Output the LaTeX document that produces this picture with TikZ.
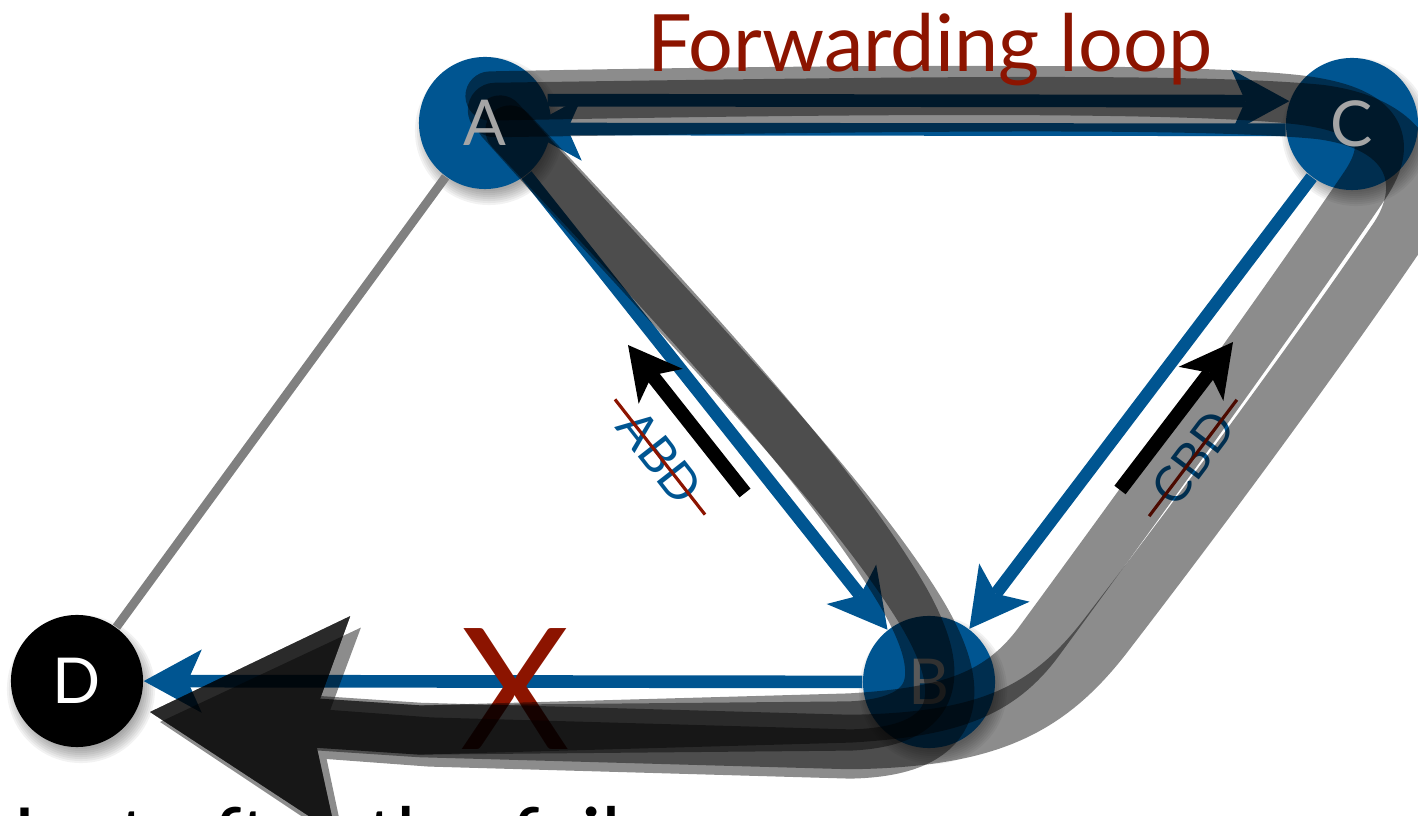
\documentclass[tikz,border=0pt]{standalone}
\usepackage{fontspec}
\setmainfont{Lato}
\usepackage{tikz}
\usetikzlibrary{arrows.meta,calc}
\definecolor{netblue}{RGB}{0,85,145}
\definecolor{loopred}{RGB}{140,20,0}
\definecolor{labelgray}{RGB}{165,165,165}
\definecolor{linkgray}{RGB}{128,128,128}

\begin{document}
\begin{tikzpicture}[x=0.01cm, y=-0.01cm,
    router/.style={circle, fill=netblue, minimum size=1.32cm, inner sep=0pt},
    rname/.style={font=\fontsize{18}{18}\selectfont, text=labelgray, inner sep=0pt},
    link/.style={draw=netblue, line width=3.6pt, -{Stealth[length=16.5pt, width=18pt, inset=4pt, line width=0pt]}},
    hint/.style={draw=black, line width=4pt, -{Stealth[length=15pt, width=16pt, inset=4pt, line width=0pt]}},
    route/.style={text=netblue, font=\fontsize{14}{14}\selectfont, inner xsep=6pt, inner ysep=0pt},
    strike/.style={draw=loopred, line width=0.9pt},
    band/.style={draw=black, line cap=round, line join=round, line width=14pt,
        -{Stealth[length=55pt, width=62pt, inset=9pt, line width=0pt]}},
    bandgroup/.style={transparency group, opacity=0.45}]
    \useasboundingbox (0,0) rectangle (1418,816);

    % where the routers sit
    \coordinate (pA) at (485,123);
    \coordinate (pB) at (929,682);
    \coordinate (pC) at (1352,124);
    \coordinate (pD) at (77,681);

    % soft shadows under the routers
    \foreach \p in {pA,pB,pC,pD}
        \foreach \k in {1,...,8}
            \fill[black, opacity=0.05] ($(\p)+(4,8)$) circle[radius={0.58cm+0.02cm*\k}];

    \node[router] (A) at (pA) {};
    \node[router, rname] (B) at (pB) {B};
    \node[router] (C) at (pC) {};
    \node[router, fill=black, rname, text=white] (D) at (pD) {D};

    % A to D (plain link)
    \draw[draw=linkgray, line width=2.5pt] (A) -- (D);

    % links and their directions
    \draw[link] (A.20) -- (C.160);
    \coordinate (tipA) at ($(A.east)+(-28,6)$);
    \draw[link] (C.185) -- (tipA);
    \draw[link] (A) -- (B);
    \draw[link] (C) -- (B);
    \draw[link] (B) -- (D);

    % route learnt from C, no longer valid
    \node[route, rotate=53] (cbd) at (1193,458) {CBD};
    \draw[strike] (cbd.west) -- (cbd.east);

    % failed link
    \node[text=loopred, font=\fontsize{48}{48}\selectfont, anchor=base, inner sep=0pt] (cut) at (515,750) {X};

    % traffic: A -> C -> B -> D, drawn twice
    \coordinate (tipD) at (150,712);
    \coordinate (tipDb) at (160,722);
    \begin{scope}[bandgroup]
    \draw[band] (490,96) .. controls (900,88) and (1200,88) .. (1300,100)
        .. controls (1380,110) and (1395,140) .. (1365,185)
        .. controls (1280,310) and (1150,490) .. (1040,640)
        .. controls (1000,695) and (950,712) .. (850,718) -- (420,730) -- (tipD);
    \end{scope}
    \begin{scope}[bandgroup]
    \draw[band, line width=15.5pt] (495,110) .. controls (900,104) and (1200,100) .. (1320,112)
        .. controls (1420,125) and (1430,190) .. (1395,240)
        .. controls (1320,350) and (1210,500) .. (1110,630)
        .. controls (1050,710) and (990,740) .. (850,742) -- (420,730) -- (tipD);
    \end{scope}

    % traffic: A -> B -> D, drawn twice
    \begin{scope}[bandgroup]
    \draw[band] (510,130) .. controls (660,290) and (830,470) .. (905,600)
        .. controls (950,680) and (935,722) .. (850,726) -- (420,730) -- (tipD);
    \end{scope}
    \begin{scope}[bandgroup]
    \draw[band] (500,120) .. controls (660,300) and (840,480) .. (920,610)
        .. controls (975,700) and (955,752) .. (850,754) -- (430,742) -- (tipDb);
    \end{scope}

    % B now points back to A and to C
    \coordinate (abdtail) at (745,493);
    \coordinate (abdtip) at (628,345);
    \draw[hint] (abdtail) -- (abdtip);
    \coordinate (cbdtail) at (1120,490);
    \coordinate (cbdtip) at (1233,342);
    \draw[hint] (cbdtail) -- (cbdtip);

    % route learnt from A, no longer valid
    \node[route, rotate=-52] (abd) at (660,457) {ABD};
    \draw[strike] (abd.west) -- (abd.east);

    \node[rname] (labA) at (A) {A};
    \node[rname] (labC) at (C) {C};

    \node[text=loopred, font=\fontsize{22.5}{24}\selectfont, anchor=base, inner sep=0pt] (title) at (930,72) {Forwarding loop};
    \node[font=\fontsize{24}{24}\selectfont, anchor=base west, inner sep=0pt] (caption) at (0,869) {Just after the failure};
\end{tikzpicture}
\end{document}
